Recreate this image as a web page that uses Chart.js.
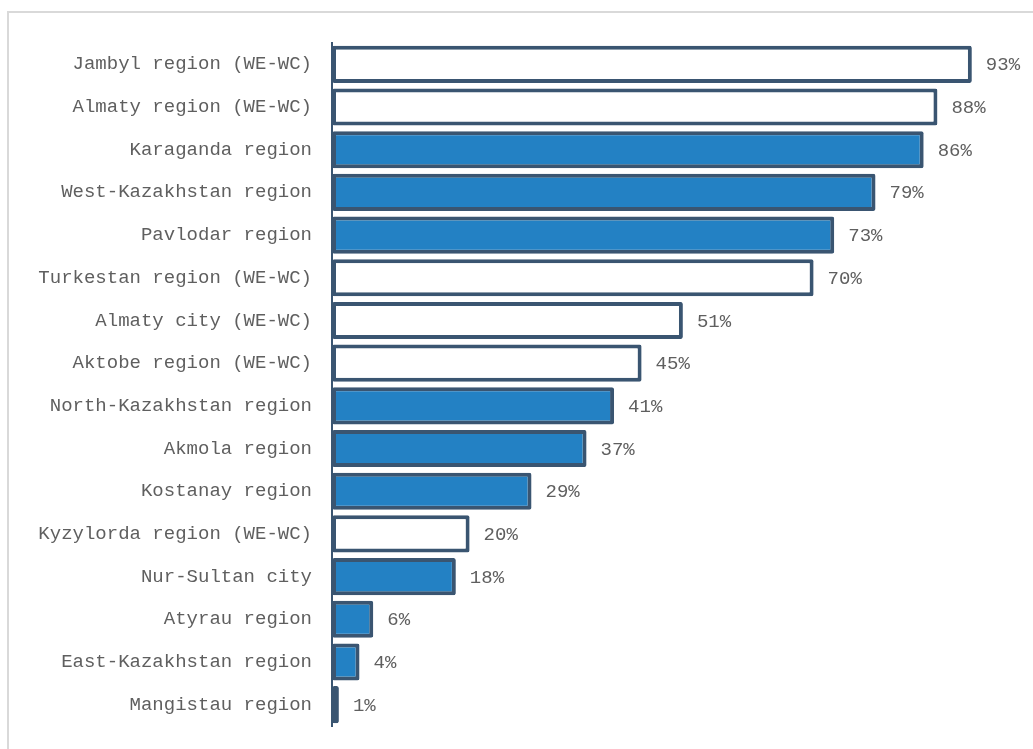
<!DOCTYPE html>
<html>
<head>
<meta charset="utf-8">
<script src="https://cdn.jsdelivr.net/npm/chart.js@4"></script>
<style>
  html, body { margin: 0; padding: 0; background: #fff; }
  #wrap { position: relative; width: 1033px; height: 749px; overflow: hidden; }
  #frame { position: absolute; left: 7px; top: 11px; width: 1100px; height: 800px; border: 2px solid #d9d9d9; box-sizing: border-box; }
  canvas { position: absolute; left: 0; top: 0; }
</style>
</head>
<body>
<div id="wrap">
  <div id="frame"></div>
  <canvas id="c" width="1033" height="749"></canvas>
</div>
<script>
const categories = [
  "Jambyl region (WE-WC)",
  "Almaty region (WE-WC)",
  "Karaganda region",
  "West-Kazakhstan region",
  "Pavlodar region",
  "Turkestan region (WE-WC)",
  "Almaty city (WE-WC)",
  "Aktobe region (WE-WC)",
  "North-Kazakhstan region",
  "Akmola region",
  "Kostanay region",
  "Kyzylorda region (WE-WC)",
  "Nur-Sultan city",
  "Atyrau region",
  "East-Kazakhstan region",
  "Mangistau region"
];
const values = [93, 88, 86, 79, 73, 70, 51, 45, 41, 37, 29, 20, 18, 6, 4, 1];
const hollow = [true, true, false, false, false, true, true, true, false, false, false, true, false, false, false, false];

const FONT = "'Liberation Mono', 'DejaVu Sans Mono', monospace";

const valueLabels = {
  id: 'valueLabels',
  afterDatasetsDraw(chart) {
    const ctx = chart.ctx;
    const meta = chart.getDatasetMeta(0);
    ctx.save();
    ctx.font = "19px " + FONT;
    ctx.fillStyle = "#5f5f5f";
    ctx.textAlign = "left";
    ctx.textBaseline = "middle";
    meta.data.forEach((bar, i) => {
      ctx.fillText(values[i] + "%", bar.x + 14, bar.y + 1);
    });
    ctx.restore();
  }
};

new Chart(document.getElementById('c'), {
  type: 'bar',
  data: {
    labels: categories,
    datasets: [{
      data: values,
      backgroundColor: hollow.map(h => h ? '#ffffff' : '#2381c4'),
      borderColor: '#3a5571',
      borderWidth: 4,
      borderRadius: 2,
      borderSkipped: false,
      barPercentage: 0.87,
      categoryPercentage: 1
    }]
  },
  options: {
    indexAxis: 'y',
    responsive: false,
    animation: false,
    devicePixelRatio: 1,
    layout: { padding: { left: 0, right: 13, top: 43, bottom: 23 } },
    plugins: { legend: { display: false }, tooltip: { enabled: false } },
    scales: {
      x: { display: false, min: 0, max: 100 },
      y: {
        afterFit(axis) { axis.width = 332; axis.paddingTop = 0; axis.paddingBottom = 0; },
        grid: { display: false, drawTicks: false },
        border: { display: true, color: '#3a5571', width: 2 },
        ticks: {
          padding: 20,
          color: '#5f5f5f',
          font: { family: FONT, size: 19 }
        }
      }
    }
  },
  plugins: [valueLabels]
});
</script>
</body>
</html>
